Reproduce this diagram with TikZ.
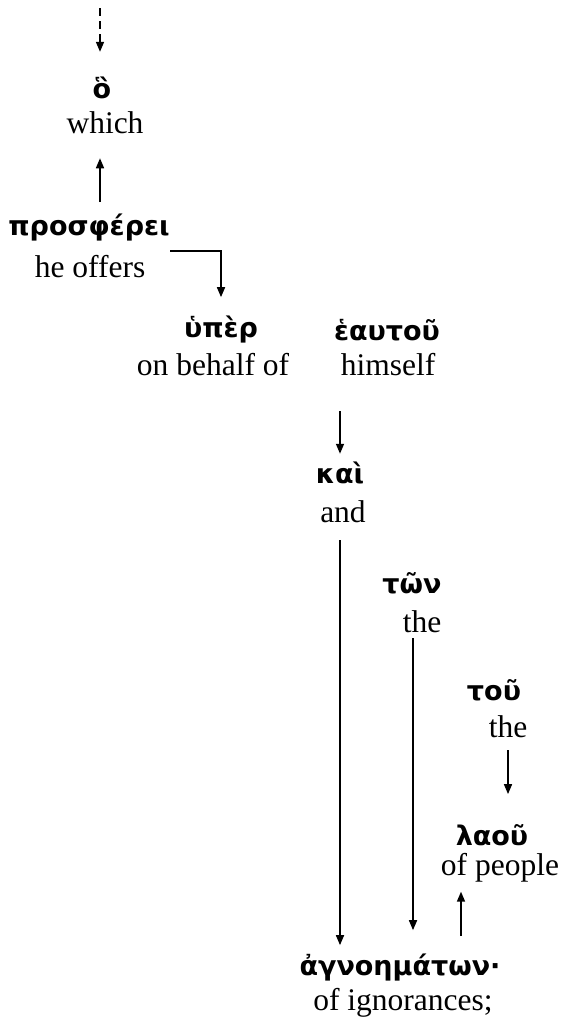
\documentclass[tikz,border=0pt]{standalone}
\usepackage{fontspec}
\setmainfont{Liberation Serif}
\newfontfamily\grk{DejaVu Sans}
\usetikzlibrary{arrows.meta,positioning}

\begin{document}
\begin{tikzpicture}[x=1pt,y=-1pt,>={Triangle[length=10pt,width=8pt]},
	gk/.style={inner sep=0pt,font=\grk\bfseries\fontsize{27}{31}\selectfont},
	en/.style={inner sep=0pt,font=\fontsize{31.5}{36}\selectfont},
	link/.style={->,line width=1.6pt}]
			\useasboundingbox (0,0) rectangle (567,1031);
			\node[gk] (w_ho) at (102,88) {ὃ};
			\node[en] (t_ho) at (105,123) {which};
			\node[gk] (w_pr) at (89,228) {προσφέρει};
			\node[en] (t_pr) at (90,267) {he offers};
			\node[gk] (w_hy) at (221,330) {ὑπὲρ};
			\node[en] (t_hy) at (213,365) {on behalf of};
			\node[gk] (w_he) at (387,330) {ἑαυτοῦ};
			\node[en] (t_he) at (388,365) {himself};
			\node[gk] (w_ka) at (340,473) {καὶ};
			\node[en] (t_ka) at (343,512) {and};
			\node[gk] (w_ton) at (412,583) {τῶν};
			\node[en] (t_ton) at (422,622) {the};
			\node[gk] (w_tou) at (494,690) {τοῦ};
			\node[en] (t_tou) at (508,727) {the};
			\node[gk] (w_la) at (492,835) {λαοῦ};
			\node[en] (t_la) at (500,868) {of people};
			\node[gk] (w_ag) at (400,968) {ἀγνοημάτων·};
			\node[en] (t_ag) at (403,1003) {of ignorances;};
			% columns of the vertical links
			\coordinate (c_top) at (100,8);
			\coordinate (c_ton) at (413,0);
			\coordinate (c_tou) at (508,0);
			\coordinate (c_la) at (461,0);
			\draw[link,dashed,dash pattern=on 8pt off 5pt,shorten >=25pt] (c_top) -- (w_ho.north -| c_top);
			\draw[link,shorten <=12pt,shorten >=24pt] (w_pr.north -| c_top) -- (t_ho.south -| c_top);
			\draw[link,shorten <=25pt,shorten >=19pt] ([yshift=16pt]t_pr.east) -| (w_hy.north);
			\draw[link,shorten <=35pt,shorten >=8pt] (t_he.south -| w_ka.north) -- (w_ka.north);
			\draw[link,shorten <=17pt,shorten >=9pt] (t_ka.south -| w_ka.north) -- (w_ag.north -| w_ka.north);
			\draw[link,shorten <=5pt,shorten >=24pt] (t_ton.south -| c_ton) -- (w_ag.north -| c_ton);
			\draw[link,shorten <=12pt,shorten >=30pt] (t_tou.south -| c_tou) -- (w_la.north -| c_tou);
			\draw[link,shorten <=18pt,shorten >=9pt] (w_ag.north -| c_la) -- (t_la.south -| c_la);
		\end{tikzpicture}
\end{document}
